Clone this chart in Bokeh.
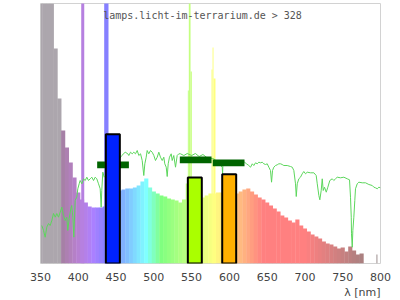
from bokeh.plotting import figure
from bokeh.models import Range1d, Label, FixedTicker, Title
from bokeh.embed import file_html
from bokeh.resources import INLINE

# ---------------- data ----------------
# lamp spectrum, 5 nm bins (relative intensity; values > 260 run off the top)
spec_nm = list(range(350, 780, 5))
spec_val = [300, 300, 300, 300, 215, 165, 133, 116, 101, 86,
            71, 64, 61, 57, 56, 56, 56, 57, 60, 65,
            70, 73, 74, 75, 75, 76, 78, 82, 85, 76,
            72, 70, 68, 67, 65, 64, 63, 61, 64, 80,
            75, 70, 67, 66, 68, 70, 70, 71, 71, 71,
            71, 70, 70, 72, 74, 75, 72, 69, 66, 64,
            61, 58, 55, 52, 48, 46, 43, 41, 44, 38,
            35, 32, 29, 27, 25, 22, 20, 19, 17, 15,
            16, 12, 17, 13, 9, 10]

# narrow emission lines (start nm, end nm, intensity)
line_start = [403.9, 434.3, 545.0, 546.3, 548.6, 576.3, 577.7, 579.0, 794.5]
line_end = [407.9, 440.0, 546.3, 548.6, 550.3, 577.7, 579.0, 581.6, 796.0]
line_val = [300, 300, 173, 300, 192, 194, 216, 185, 9]

# daylight reference curve
sun_nm = [351.7, 354.0, 356.2, 358.3, 360.6, 362.8, 365.0, 367.2, 369.5, 371.6,
          373.8, 376.1, 378.2, 380.4, 382.7, 384.8, 386.1, 388.0, 390.1, 391.4,
          392.8, 394.1, 395.9, 398.0, 399.4, 401.2, 402.5, 404.7, 406.9, 409.2,
          411.3, 413.5, 415.8, 417.9, 420.2, 422.4, 424.5, 426.8, 429.0, 430.3,
          431.1, 432.5, 434.3, 445.0, 457.6, 462.1, 465.6, 466.9, 469.1, 471.4,
          473.5, 475.7, 478.0, 480.1, 482.4, 484.6, 486.7, 488.1, 489.9, 491.2,
          493.3, 495.6, 497.8, 500.0, 502.2, 504.5, 506.6, 508.8, 511.1, 513.2,
          514.5, 516.4, 517.7, 519.0, 520.7, 523.0, 524.3, 526.4, 528.7, 530.9,
          533.1, 535.3, 539.7, 544.2, 550.0, 555.0, 560.0, 565.0, 570.0, 575.0,
          579.4, 585.0, 590.5, 591.0, 591.6, 600.0, 610.0, 620.0, 622.7, 625.7,
          628.0, 630.3, 632.3, 634.6, 636.8, 639.0, 641.2, 643.5, 645.6, 647.8,
          650.1, 652.2, 654.4, 655.8, 657.1, 658.8, 661.1, 663.3, 665.4, 667.7,
          669.9, 672.0, 676.5, 680.9, 683.2, 685.3, 687.5, 688.5, 689.8, 691.9,
          694.1, 696.4, 698.5, 700.8, 703.0, 707.4, 711.8, 714.9, 716.3, 718.4,
          719.7, 721.5, 722.9, 724.2, 725.9, 728.2, 730.3, 732.9, 736.1, 738.2,
          740.5, 742.7, 747.1, 751.5, 756.0, 759.0, 760.3, 761.3, 761.6, 762.6,
          763.4, 764.7, 766.0, 766.9, 769.2, 771.3, 775.8, 780.2, 784.6, 789.1,
          791.2, 793.4, 795.7, 797.8, 800.0]
sun_val = [38, 33, 26.3, 36.3, 40, 38, 43, 50, 46.3, 50,
           46.3, 51.3, 56.3, 48, 43, 46.3, 33, 45, 55, 58,
           46.3, 26.3, 63, 66.3, 74.7, 79.7, 83, 79.7, 84.7, 83,
           86.3, 83, 84.7, 86.3, 83, 86.3, 84.7, 79.7, 74.7, 56.3,
           73, 91.3, 86.3, 95, 108, 111.3, 109.7, 108, 111.3, 109.7,
           111.3, 109.7, 113, 108, 109.7, 103, 88, 99.7, 106.3, 113,
           109.7, 113, 111.3, 108, 103, 106.3, 111.3, 106.3, 103, 106.3,
           99.7, 96.3, 87, 99.7, 106.3, 109.7, 103, 108, 96.3, 108,
           109.7, 109.7, 108, 110, 108, 110, 107, 109, 106, 105,
           104.7, 101, 96.3, 90, 103, 101, 102, 101.3, 99.7, 98,
           96.3, 99.7, 98, 100.7, 99.7, 101.3, 100.7, 101.3, 99.7, 99,
           99.7, 96.3, 93, 81.3, 93, 96.3, 98, 98.7, 99.7, 99.7,
           99, 98, 98, 97, 96.3, 93, 79.7, 67, 79.7, 84.7,
           86.3, 89.7, 92, 89.7, 91.3, 90.7, 90.7, 88, 79.7, 68,
           63.7, 73, 84.7, 73, 76.3, 71.3, 76.3, 83, 84.7, 83,
           84.7, 86.3, 85.7, 86.3, 84.7, 83.7, 66.3, 46.3, 29.7, 16.3,
           33, 46.3, 63, 74.7, 79.7, 81.3, 80.7, 80.7, 79, 78,
           76.3, 75.7, 74.7, 76.3, 75.7]

# band bars (start nm, end nm, value)
bar_start = [436.5, 545.0, 590.5]
bar_end = [455.0, 563.5, 609.0]
bar_val = [129.3, 86.0, 89.3]

# reference markers (centre nm, value)
mark_nm = [446.0, 555.4, 599.0]
mark_val = [98.7, 103.7, 100.7]

tick_nm = [350, 400, 450, 500, 550, 600, 650, 700, 750, 800]
title_text = "lamps.licht-im-terrarium.de > 328"
axis_text = "λ [nm]"


# ---------------- styling helpers ----------------
def wl_color(nm):
    if nm < 378:
        return "#aca6ad"
    if nm >= 780:
        return "#a89c9c"
    if nm < 440:
        r, g, b = (440 - nm) / 60.0, 0.0, 1.0
    elif nm < 490:
        r, g, b = 0.0, (nm - 440) / 50.0, 1.0
    elif nm < 510:
        r, g, b = 0.0, 1.0, (510 - nm) / 20.0
    elif nm < 580:
        r, g, b = (nm - 510) / 70.0, 1.0, 0.0
    elif nm < 645:
        r, g, b = 1.0, (645 - nm) / 65.0, 0.0
    else:
        r, g, b = 1.0, 0.0, 0.0
    if nm < 420:
        f = 0.3 + 0.7 * (nm - 380) / 40.0
    elif nm > 700:
        f = 0.3 + 0.7 * (780 - nm) / 80.0
    else:
        f = 1.0
    f = max(0.3, min(1.0, f))
    c = [int(round(127.5 + 127.5 * v * f)) for v in (r, g, b)]
    return "#%02x%02x%02x" % tuple(c)


spec_colors = [wl_color(n) for n in spec_nm]
line_colors = [wl_color((a + b) / 2) for a, b in zip(line_start, line_end)]

p = figure(width=400, height=300,
           x_range=Range1d(350, 800), y_range=Range1d(0, 260),
           output_backend="svg", toolbar_location=None,
           y_axis_location=None,
           min_border_left=40, min_border_right=20,
           min_border_top=3, min_border_bottom=37)
p.background_fill_color = "white"
p.border_fill_color = "white"
p.outline_line_color = "#d2d2d2"
p.outline_line_width = 1
p.xgrid.visible = False
p.ygrid.visible = False

# lamp spectrum
p.vbar(x=spec_nm, width=5.5, top=spec_val, bottom=0,
       fill_color=spec_colors, line_color=None)
p.quad(left=line_start, right=line_end, bottom=0, top=line_val,
       fill_color=line_colors, line_color=None)

# daylight reference
p.line(sun_nm, sun_val, line_color="#5cd65c", line_width=1)

# markers
p.rect(x=mark_nm, y=mark_val, width=42, height=6.7,
       fill_color="#006400", line_color=None)

# bars
p.quad(left=bar_start, right=bar_end, bottom=0, top=bar_val,
       fill_color=["#0022ff", "#aaff00", "#ffb000"],
       line_color="black", line_width=2)

ax = p.xaxis[0]
ax.ticker = FixedTicker(ticks=tick_nm)
ax.axis_line_color = None
ax.major_tick_line_color = None
ax.minor_tick_line_color = None
ax.major_tick_out = 0
ax.major_tick_in = 0
ax.major_label_standoff = 9
ax.major_label_text_font = "DejaVu Sans"
ax.major_label_text_font_size = "11px"
ax.major_label_text_color = "#444444"

p.add_layout(Title(text=axis_text, align="right", text_font="DejaVu Sans",
                   text_font_size="11px", text_font_style="normal",
                   text_color="#444444", standoff=0, offset=0), "below")
p.add_layout(Label(x=433, y=248.5, text=title_text, text_align="left",
                   text_baseline="alphabetic", text_font="DejaVu Sans Mono",
                   text_font_size="10px", text_color="#555555"))

open("out.html", "w").write(file_html(p, INLINE))
